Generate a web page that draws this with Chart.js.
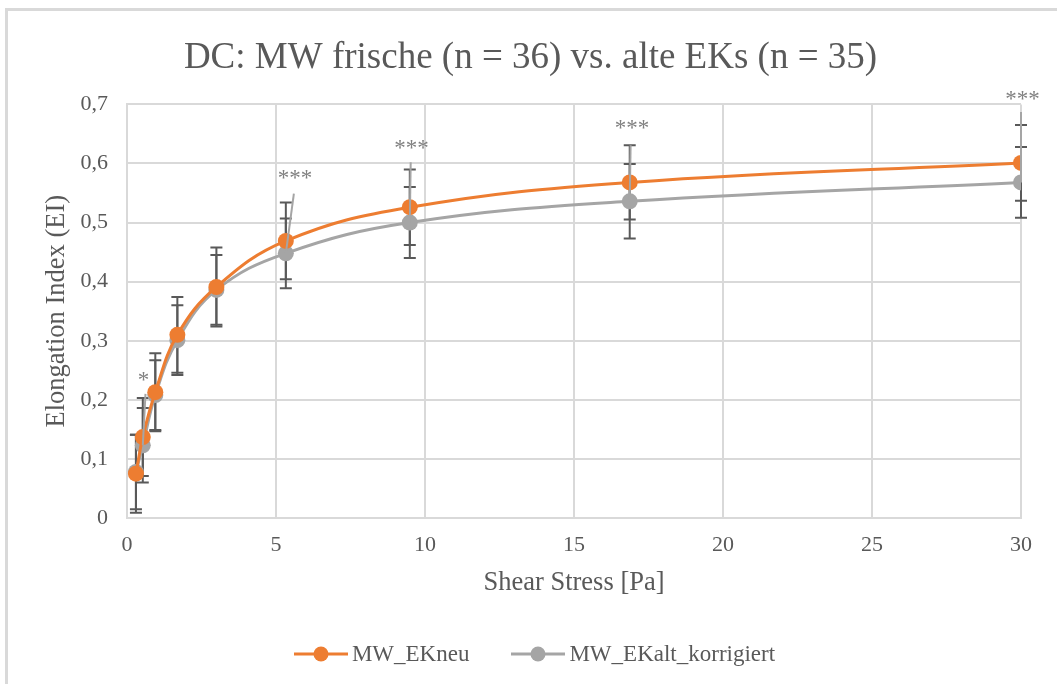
<!DOCTYPE html>
<html>
<head>
<meta charset="utf-8">
<script src="https://cdn.jsdelivr.net/npm/chart.js@4.4.0/dist/chart.umd.min.js"></script>
<style>
  html, body { margin: 0; padding: 0; background: #fff; overflow: hidden; }
  #wrap { position: relative; width: 1057px; height: 684px; }
  #frame { position: absolute; left: 5px; top: 8px; width: 1100px; height: 720px;
           border: 3px solid #d9d9d9; box-sizing: border-box; pointer-events: none; }
  #legend { position: absolute; left: 16px; top: 638px; width: 1037px; height: 32px;
            display: flex; justify-content: center; align-items: center;
            font: 23px "Liberation Serif", "Times New Roman", serif; color: #595959; }
  #legend .item { display: flex; align-items: center; margin: 0 21px; }
  #legend canvas { margin-right: 4px; }
</style>
</head>
<body>
<div id="wrap">
  <canvas id="chart" width="1057" height="684"></canvas>
  <div id="legend"></div>
  <div id="frame"></div>
</div>
<script>
// --- Data ---
const shearStress = [0.3, 0.53, 0.95, 1.69, 3.0, 5.33, 9.49, 16.87, 30];
const eiNeu = [0.075, 0.137, 0.213, 0.310, 0.391, 0.469, 0.526, 0.568, 0.601];
const eiAlt = [0.078, 0.123, 0.208, 0.301, 0.386, 0.448, 0.500, 0.536, 0.568];
const sdNeu = [0.066, 0.066, 0.066, 0.064, 0.067, 0.065, 0.064, 0.063, 0.064];
const sdAlt = [0.063, 0.063, 0.059, 0.059, 0.059, 0.059, 0.060, 0.063, 0.060];

// significance marks
const sigText = ['*', '***', '***', '***', '***'];
const sigX = [0.55, 5.64, 9.55, 16.95, 30.05];
const sigY = [0.238, 0.58, 0.631, 0.665, 0.715];
const sigLineIdx = [1, 5, 6, 7, 8];
const sigLineTopX = [0.62, 5.6, 9.52, 16.9, 30];
const sigLineTopY = [0.21, 0.549, 0.602, 0.631, 0.687];

const yTickLabels = ['0', '0,1', '0,2', '0,3', '0,4', '0,5', '0,6', '0,7'];

const serif = '"Liberation Serif", "Times New Roman", serif';
const textGray = '#595959';

function legendIcon(color) {
    const c = document.createElement('canvas');
    c.width = 54; c.height = 18;
    const g = c.getContext('2d');
    g.strokeStyle = color; g.lineWidth = 3;
    g.beginPath(); g.moveTo(0, 9); g.lineTo(54, 9); g.stroke();
    g.fillStyle = color;
    g.beginPath(); g.arc(27, 9, 7.5, 0, Math.PI * 2); g.fill();
    return c;
}

// html legend built from the datasets (line + marker like Excel)
const htmlLegend = {
    id: 'htmlLegend',
    afterUpdate(chart) {
        const box = document.getElementById('legend');
        box.innerHTML = '';
        chart.data.datasets.forEach(ds => {
            const item = document.createElement('div');
            item.className = 'item';
            item.appendChild(legendIcon(ds.borderColor));
            const span = document.createElement('span');
            span.textContent = ds.label;
            item.appendChild(span);
            box.appendChild(item);
        });
    }
};

// error bars drawn behind the markers
const errorBars = {
    id: 'errorBars',
    beforeDatasetsDraw(chart) {
        const { ctx, scales: { x, y } } = chart;
        ctx.save();
        ctx.strokeStyle = '#595959';
        ctx.lineWidth = 2;
        [[eiNeu, sdNeu], [eiAlt, sdAlt]].forEach(([vals, sds]) => {
            vals.forEach((v, i) => {
                const px = x.getPixelForValue(shearStress[i]);
                const top = y.getPixelForValue(v + sds[i]);
                const bot = y.getPixelForValue(v - sds[i]);
                ctx.beginPath();
                ctx.moveTo(px, top); ctx.lineTo(px, bot);
                ctx.moveTo(px - 6, top); ctx.lineTo(px + 6, top);
                ctx.moveTo(px - 6, bot); ctx.lineTo(px + 6, bot);
                ctx.stroke();
            });
        });
        ctx.restore();
    }
};

// asterisks + thin pointer lines
const sigMarks = {
    id: 'sigMarks',
    afterDatasetsDraw(chart) {
        const { ctx, scales: { x, y } } = chart;
        ctx.save();
        ctx.strokeStyle = '#a5a5a5';
        ctx.lineWidth = 2;
        sigLineIdx.forEach((idx, i) => {
            ctx.beginPath();
            ctx.moveTo(x.getPixelForValue(shearStress[idx]), y.getPixelForValue(eiAlt[idx]));
            ctx.lineTo(x.getPixelForValue(sigLineTopX[i]), y.getPixelForValue(sigLineTopY[i]));
            ctx.stroke();
        });
        ctx.fillStyle = '#808080';
        ctx.font = '23px ' + serif;
        ctx.textAlign = 'center';
        ctx.textBaseline = 'middle';
        sigText.forEach((t, i) => {
            ctx.fillText(t, x.getPixelForValue(sigX[i]), y.getPixelForValue(sigY[i]) + 4);
        });
        ctx.restore();
    }
};

new Chart(document.getElementById('chart'), {
    type: 'scatter',
    data: {
        datasets: [{
            label: 'MW_EKneu',
            data: shearStress.map((s, i) => ({ x: s, y: eiNeu[i] })),
            showLine: true,
            tension: 0.4,
            borderColor: '#ED7D31',
            backgroundColor: '#ED7D31',
            borderWidth: 3,
            pointRadius: 8,
            pointBorderWidth: 0
        }, {
            label: 'MW_EKalt_korrigiert',
            data: shearStress.map((s, i) => ({ x: s, y: eiAlt[i] })),
            showLine: true,
            tension: 0.4,
            borderColor: '#A5A5A5',
            backgroundColor: '#A5A5A5',
            borderWidth: 3,
            pointRadius: 8,
            pointBorderWidth: 0
        }]
    },
    options: {
        responsive: false,
        animation: false,
        layout: { padding: { top: 0, right: 36, bottom: 51, left: 40 } },
        plugins: {
            title: {
                display: true,
                text: 'DC: MW frische (n = 36) vs. alte EKs (n = 35)',
                color: textGray,
                font: { family: serif, size: 37, weight: 'normal' },
                padding: { top: 36, bottom: 24 }
            },
            legend: { display: false },
            tooltip: { enabled: false }
        },
        scales: {
            x: {
                type: 'linear',
                min: 0, max: 30,
                afterFit(scale) { scale.height = 115; },
                ticks: { stepSize: 5, color: textGray, font: { family: serif, size: 22 }, padding: 14 },
                grid: { color: '#d9d9d9', lineWidth: 2, drawTicks: false },
                border: { color: '#d9d9d9', width: 2 },
                title: { display: true, text: 'Shear Stress [Pa]', color: textGray,
                         font: { family: serif, size: 26.5 }, padding: { top: 0, bottom: 34 } }
            },
            y: {
                min: 0, max: 0.7,
                afterFit(scale) { scale.width = 87; },
                ticks: { stepSize: 0.1, color: textGray, font: { family: serif, size: 22 }, padding: 19,
                         callback: (v, i) => yTickLabels[i] },
                grid: { color: '#d9d9d9', lineWidth: 2, drawTicks: false },
                border: { color: '#d9d9d9', width: 2 },
                title: { display: true, text: 'Elongation Index (EI)', color: textGray,
                         font: { family: serif, size: 26.5 }, padding: { top: 1, bottom: 8 } }
            }
        }
    },
    plugins: [errorBars, sigMarks, htmlLegend]
});
</script>
</body>
</html>
